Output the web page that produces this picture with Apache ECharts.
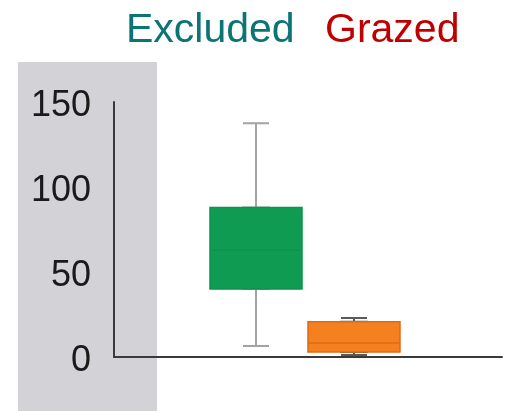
<!DOCTYPE html>
<html>
<head>
<meta charset="utf-8">
<script src="https://cdn.jsdelivr.net/npm/echarts@6/dist/echarts.min.js"></script>
<style>
html, body { margin: 0; padding: 0; background: #fff; }
#main { width: 505px; height: 411px; }
</style>
</head>
<body>
<div id="main"></div>
<script>
// groups and their box stats: [min, Q1, median, Q3, max]
const groups = ['Excluded', 'Grazed'];
const boxValues = [
    [6.5, 40, 63, 88, 137.5],
    [1.2, 3, 8.3, 20.7, 23]
];
const yTicks = [0, 50, 100, 150];

const titleColors = ['#0b7474', '#c00000'];
const titleLeft = [121, 320];
const fillColors = ['#0f9c52', '#f5801f'];
const edgeColors = ['#0d944b', '#dd6a14'];
const whiskerColors = ['#a3a3a3', '#5a5a5a'];

const chart = echarts.init(document.getElementById('main'));

let whiskerData = [], boxData = [];
boxValues.forEach((v, i) => {
    whiskerData.push({
        value: v,
        itemStyle: { color: 'transparent', borderColor: whiskerColors[i], borderWidth: 2 }
    });
    // box only: whiskers collapse onto the box edges
    boxData.push({
        value: [v[1], v[1], v[2], v[3], v[3]],
        itemStyle: { color: fillColors[i], borderColor: edgeColors[i], borderWidth: 1.5 }
    });
});

const hiddenAxis = {
    axisLine: { show: false },
    axisTick: { show: false },
    axisLabel: { show: false },
    splitLine: { show: false }
};

chart.setOption({
    animation: false,
    title: groups.map((g, i) => ({
        text: g,
        left: titleLeft[i],
        top: 5,
        textStyle: {
            color: titleColors[i],
            fontSize: 41,
            fontWeight: 'normal',
            fontFamily: 'Liberation Sans, Arial, sans-serif'
        }
    })),
    graphic: [{
        type: 'rect',
        z: -10,
        shape: { x: 18, y: 62, width: 139, height: 349 },
        style: { fill: '#d3d3d7' }
    }],
    grid: [
        { left: 207, right: 102, top: 102, bottom: 54 },
        { left: 114, right: 3, top: 102, bottom: 54 }
    ],
    xAxis: [
        Object.assign({ type: 'category', gridIndex: 0, data: groups }, hiddenAxis),
        Object.assign({ type: 'category', gridIndex: 0, data: groups, position: 'top' }, hiddenAxis),
        {
            type: 'value', gridIndex: 1, min: 0, max: 1,
            axisLine: { show: true, lineStyle: { color: '#3a3a3a', width: 2 } },
            axisTick: { show: false },
            axisLabel: { show: false },
            splitLine: { show: false }
        }
    ],
    yAxis: [
        Object.assign({ type: 'value', gridIndex: 0, min: 0, max: 150 }, hiddenAxis),
        {
            type: 'value', gridIndex: 1,
            min: yTicks[0], max: yTicks[yTicks.length - 1], interval: 50,
            axisLine: { show: true, lineStyle: { color: '#3a3a3a', width: 2 } },
            axisTick: { show: false },
            splitLine: { show: false },
            axisLabel: {
                margin: 23,
                formatter: v => '{t|' + v + '}',
                rich: {
                    t: {
                        color: '#1a1a1a',
                        fontSize: 36,
                        padding: [8, 0, 0, 0],
                        fontFamily: 'Liberation Sans, Arial, sans-serif'
                    }
                }
            }
        }
    ],
    series: [
        {
            type: 'boxplot',
            xAxisIndex: 0,
            yAxisIndex: 0,
            boxWidth: [26, 26],
            silent: true,
            data: whiskerData
        },
        {
            type: 'boxplot',
            xAxisIndex: 1,
            yAxisIndex: 0,
            boxWidth: [92, 92],
            silent: true,
            data: boxData
        }
    ]
});
</script>
</body>
</html>
